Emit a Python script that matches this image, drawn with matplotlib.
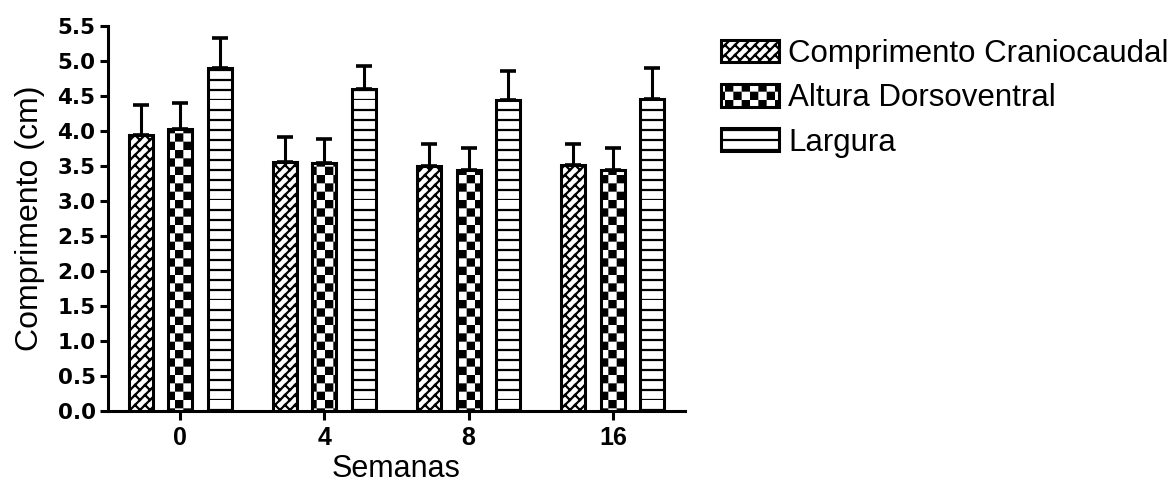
import matplotlib
matplotlib.use("Agg")
import matplotlib.pyplot as plt
import matplotlib.hatch as mhatch
from matplotlib.path import Path
import numpy as np

# ---------------- data ----------------
weeks = ["0", "4", "8", "16"]
series_names = ["Comprimento Craniocaudal", "Altura Dorsoventral", "Largura"]
cc_mean = [3.94, 3.56, 3.50, 3.52]
cc_err = [0.43, 0.35, 0.31, 0.29]
ad_mean = [4.03, 3.54, 3.44, 3.44]
ad_err = [0.37, 0.34, 0.32, 0.32]
lg_mean = [4.90, 4.60, 4.44, 4.46]
lg_err = [0.43, 0.32, 0.41, 0.44]
y_ticks = [0.0, 0.5, 1.0, 1.5, 2.0, 2.5, 3.0, 3.5, 4.0, 4.5, 5.0, 5.5]
y_tick_labels = ["0.0", "0.5", "1.0", "1.5", "2.0", "2.5", "3.0", "3.5",
                 "4.0", "4.5", "5.0", "5.5"]

HATCH_LW = 1.6
plt.rcParams["hatch.linewidth"] = HATCH_LW
plt.rcParams["hatch.color"] = "black"


# ---------------- custom hatch patterns ----------------
class CheckerHatch(mhatch.HatchPatternBase):
    """Checkerboard, bound to '*'."""
    def __init__(self, hatch, density):
        self.n = 12 if "*" in hatch else 0
        self.num_vertices = (self.n * self.n // 2) * 5

    def set_vertices_and_codes(self, vertices, codes):
        n = self.n
        s = 1.0 / n
        shrink = (HATCH_LW * 100 / 72) / 2 / 100
        k = 0
        for i in range(n):
            for j in range(n):
                if (i + j) % 2 == 0:
                    x0, y0 = i * s + shrink, j * s + shrink
                    x1, y1 = (i + 1) * s - shrink, (j + 1) * s - shrink
                    vertices[k:k + 5] = [[x0, y0], [x1, y0], [x1, y1],
                                         [x0, y1], [x0, y0]]
                    codes[k:k + 5] = [Path.MOVETO, Path.LINETO, Path.LINETO,
                                      Path.LINETO, Path.CLOSEPOLY]
                    k += 5


class BrickHatch(mhatch.HatchPatternBase):
    """Diagonal brick pattern, bound to 'o'."""
    N = 10  # diagonal lines per unit
    M = 5   # bricks per unit along the diagonal

    def __init__(self, hatch, density):
        self.on = "o" in hatch
        if self.on:
            N, M = self.N, self.M
            self.n_lines = 2 * N + 1
            self.n_segs = 2 * N * (2 * M + 4)
            self.num_vertices = (self.n_lines + self.n_segs) * 2
        else:
            self.num_vertices = 0

    def set_vertices_and_codes(self, vertices, codes):
        N, M = self.N, self.M
        pts = []
        for k in range(-N, N + 1):
            c = k / N
            pts.append([(-1.0, -1.0 + c), (2.0, 2.0 + c)])
        for k in range(-N, N):
            v1, v2 = k / N, (k + 1) / N
            for m in range(-2, 2 * M + 2):
                u = (m + 0.5 * (k % 2)) / M
                pts.append([((u - v1) / 2, (u + v1) / 2),
                            ((u - v2) / 2, (u + v2) / 2)])
        arr = np.array(pts).reshape(-1, 2)
        vertices[:] = arr
        codes[0::2] = Path.MOVETO
        codes[1::2] = Path.LINETO


class HLines10(mhatch.HatchPatternBase):
    """Horizontal lines, 10 per unit, bound to '.'."""
    def __init__(self, hatch, density):
        self.n = 10 if "." in hatch else 0
        self.num_vertices = self.n * 2

    def set_vertices_and_codes(self, vertices, codes):
        steps = np.linspace(0.0, 1.0, self.n, endpoint=False)
        vertices[0::2, 0] = 0.0
        vertices[0::2, 1] = steps
        vertices[1::2, 0] = 1.0
        vertices[1::2, 1] = steps
        codes[0::2] = Path.MOVETO
        codes[1::2] = Path.LINETO


ht = mhatch._hatch_types
ht[ht.index(mhatch.Stars)] = CheckerHatch
ht[ht.index(mhatch.SmallCircles)] = BrickHatch
ht[ht.index(mhatch.SmallFilledCircles)] = HLines10

# ---------------- figure ----------------
fig = plt.figure(figsize=(11.74, 4.97), dpi=100)
ax = fig.add_axes([0.092, 0.173, 0.4915, 0.775])

x = np.arange(len(weeks))
offset = 0.274
width = 0.167
means = [cc_mean, ad_mean, lg_mean]
errs = [cc_err, ad_err, lg_err]
hatches = ["o", "*", "."]
LW = 2.2

for k in range(3):
    xs = x + (k - 1) * offset
    ax.errorbar(xs, means[k], yerr=[np.zeros(len(weeks)), errs[k]], fmt="none",
                ecolor="black", elinewidth=LW, capsize=5.5, capthick=LW + 0.4,
                zorder=1)
    ax.bar(xs, means[k], width=width, facecolor="white", edgecolor="black",
           linewidth=LW, hatch=hatches[k], label=series_names[k], zorder=2)

ax.set_xlim(-0.5, 3.5)
ax.set_ylim(0, 5.5)
ax.set_xticks(x)
ax.set_xticklabels(weeks, fontsize=18, fontweight="bold",
                   family="Liberation Sans")
ax.set_yticks(y_ticks)
ax.set_yticklabels(y_tick_labels, fontsize=15.5, fontweight="bold",
                   family="DejaVu Sans")

for side in ["top", "right"]:
    ax.spines[side].set_visible(False)
for side in ["left", "bottom"]:
    ax.spines[side].set_linewidth(LW)
ax.tick_params(axis="y", length=6, width=LW, pad=3)
ax.tick_params(axis="x", length=6.5, width=LW, pad=4)

ax.set_ylabel("Comprimento (cm)", fontsize=23, family="Liberation Sans",
              labelpad=9)
ax.set_xlabel("Semanas", fontsize=22, family="Liberation Sans", labelpad=3)

leg = fig.legend(loc="upper left", bbox_to_anchor=(0.614, 0.922), frameon=False,
                 prop={"family": "Liberation Sans", "size": 22.5},
                 handlelength=1.86, handleheight=0.74, handletextpad=0.29,
                 labelspacing=0.46, borderpad=0, borderaxespad=0)

fig.savefig("out.png", dpi=100)
